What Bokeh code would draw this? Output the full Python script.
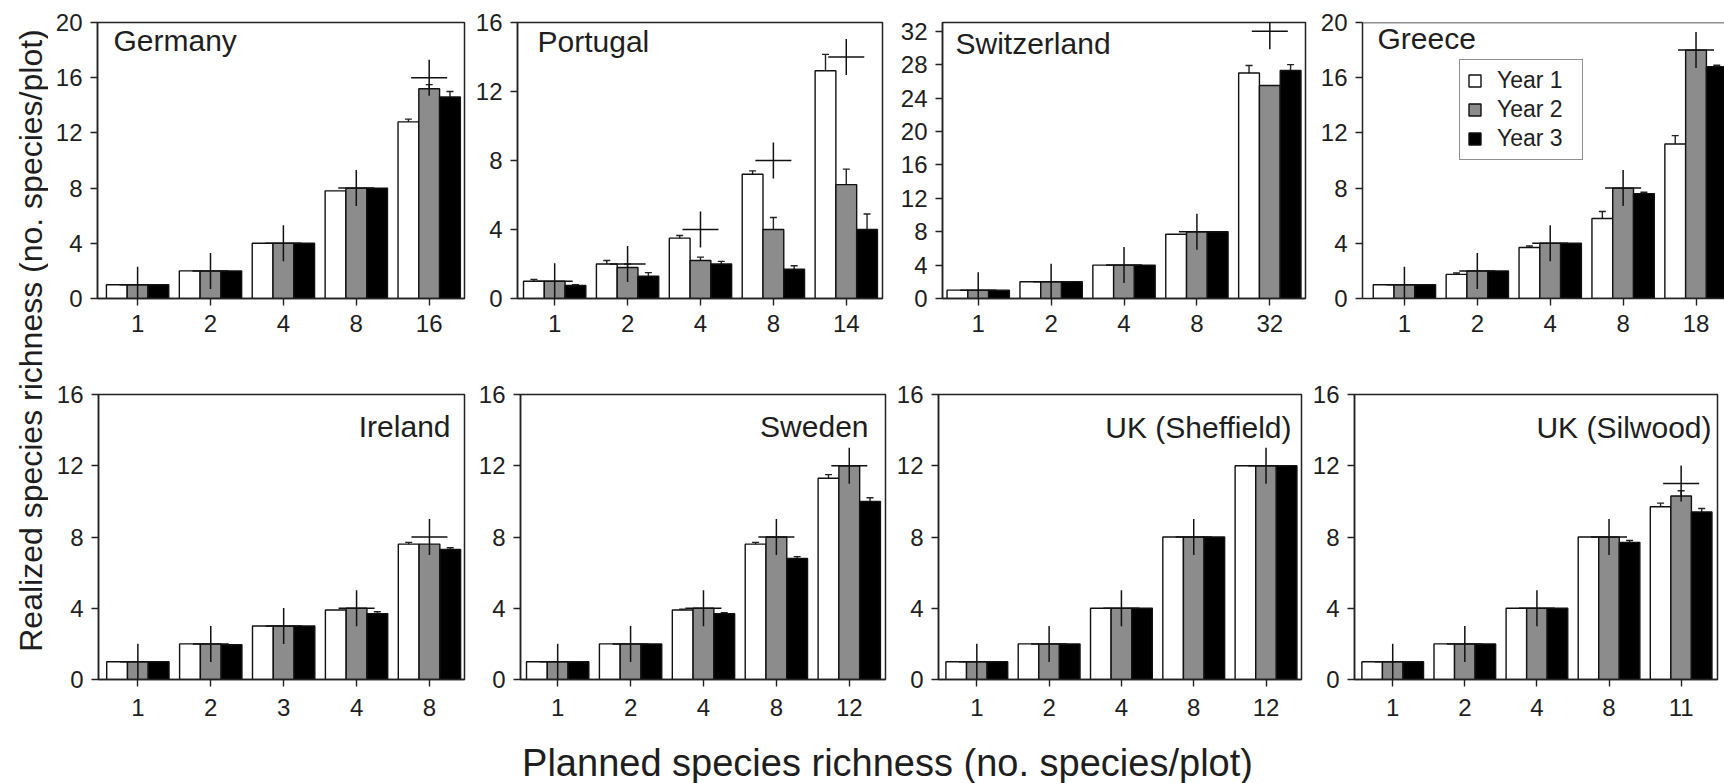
import math
from bokeh.plotting import figure
from bokeh.layouts import row, column
from bokeh.models import (ColumnDataSource, FixedTicker, Range1d, Label, Legend, LegendItem,
                          Whisker, TeeHead, Span)
from bokeh.embed import file_html
from bokeh.resources import INLINE

# ---------------- data ----------------
years = ["Year 1", "Year 2", "Year 3"]

germany_planned = [1, 2, 4, 8, 16]
germany_y1 = [1.0, 2.0, 4.0, 7.8, 12.8]
germany_y2 = [1.0, 2.0, 4.0, 8.0, 15.2]
germany_y3 = [1.0, 2.0, 4.0, 8.0, 14.6]
germany_e1 = [0, 0, 0, 0, 0.2]
germany_e2 = [0, 0, 0, 0, 0.3]
germany_e3 = [0, 0, 0, 0, 0.4]

portugal_planned = [1, 2, 4, 8, 14]
portugal_y1 = [1.0, 2.0, 3.5, 7.2, 13.2]
portugal_y2 = [1.0, 1.8, 2.2, 4.0, 6.6]
portugal_y3 = [0.75, 1.3, 2.0, 1.7, 4.0]
portugal_e1 = [0.1, 0.2, 0.15, 0.2, 0.95]
portugal_e2 = [0, 0.2, 0.2, 0.7, 0.9]
portugal_e3 = [0.05, 0.2, 0.15, 0.2, 0.9]

switzerland_planned = [1, 2, 4, 8, 32]
switzerland_y1 = [1.0, 2.0, 4.0, 7.7, 27.0]
switzerland_y2 = [1.0, 2.0, 4.0, 8.0, 25.5]
switzerland_y3 = [1.0, 2.0, 4.0, 8.0, 27.3]
switzerland_e1 = [0, 0, 0, 0, 0.9]
switzerland_e2 = [0, 0, 0, 0, 0]
switzerland_e3 = [0, 0, 0, 0, 0.7]

greece_planned = [1, 2, 4, 8, 18]
greece_y1 = [1.0, 1.75, 3.7, 5.8, 11.2]
greece_y2 = [1.0, 2.0, 4.0, 8.0, 18.0]
greece_y3 = [1.0, 2.0, 4.0, 7.6, 16.8]
greece_e1 = [0, 0.1, 0.1, 0.5, 0.6]
greece_e2 = [0, 0, 0, 0, 0]
greece_e3 = [0, 0, 0, 0.1, 0.1]

ireland_planned = [1, 2, 3, 4, 8]
ireland_y1 = [1.0, 2.0, 3.0, 3.9, 7.6]
ireland_y2 = [1.0, 2.0, 3.0, 4.0, 7.6]
ireland_y3 = [1.0, 1.95, 3.0, 3.7, 7.3]
ireland_e1 = [0, 0, 0, 0, 0.1]
ireland_e2 = [0, 0, 0, 0, 0]
ireland_e3 = [0, 0, 0, 0.1, 0.1]

sweden_planned = [1, 2, 4, 8, 12]
sweden_y1 = [1.0, 2.0, 3.9, 7.6, 11.3]
sweden_y2 = [1.0, 2.0, 4.0, 8.0, 12.0]
sweden_y3 = [1.0, 2.0, 3.7, 6.8, 10.0]
sweden_e1 = [0, 0, 0.05, 0.1, 0.2]
sweden_e2 = [0, 0, 0, 0, 0]
sweden_e3 = [0, 0, 0.05, 0.1, 0.2]

sheffield_planned = [1, 2, 4, 8, 12]
sheffield_y1 = [1.0, 2.0, 4.0, 8.0, 12.0]
sheffield_y2 = [1.0, 2.0, 4.0, 8.0, 12.0]
sheffield_y3 = [1.0, 2.0, 4.0, 8.0, 12.0]
sheffield_e1 = [0, 0, 0, 0, 0]
sheffield_e2 = [0, 0, 0, 0, 0]
sheffield_e3 = [0, 0, 0, 0, 0]

silwood_planned = [1, 2, 4, 8, 11]
silwood_y1 = [1.0, 2.0, 4.0, 8.0, 9.7]
silwood_y2 = [1.0, 2.0, 4.0, 8.0, 10.3]
silwood_y3 = [1.0, 2.0, 4.0, 7.7, 9.4]
silwood_e1 = [0, 0, 0, 0, 0.2]
silwood_e2 = [0, 0, 0, 0, 0.3]
silwood_e3 = [0, 0, 0, 0.1, 0.2]

y_label = "Realized species richness (no. species/plot)"
x_label = "Planned species richness (no. species/plot)"

# ---------------- style ----------------
FONT = "Liberation Sans"
TXT = "#1e1e1e"
LINE = "#222222"
FILLS = ["#ffffff", "#8c8c8c", "#000000"]
PX_PER_GROUP = 72.9
BAR_W = 0.285


def add_err(p, xs, vals, errs):
    keep = [i for i, e in enumerate(errs) if e > 0]
    if not keep:
        return
    src = ColumnDataSource(dict(
        base=[xs[i] for i in keep],
        upper=[vals[i] + errs[i] for i in keep],
        lower=[vals[i] - errs[i] for i in keep]))
    p.add_layout(Whisker(source=src, base="base", upper="upper", lower="lower",
                         line_color=LINE, line_width=1.4,
                         upper_head=TeeHead(size=7, line_color=LINE, line_width=1.4),
                         lower_head=TeeHead(size=7, line_color=LINE, line_width=1.4)))


def panel(name, planned, ys, es, ymax, yticks, width, height, bl, br, bt, bb, xstart,
          tx, ty, align, xstand, legend=None, cut=False):
    fw = width - bl - br
    fh = height - bt - bb
    xend = xstart + fw / PX_PER_GROUP
    p = figure(width=width, height=height, x_range=Range1d(xstart, xend),
               y_range=Range1d(0, ymax), output_backend="svg", toolbar_location=None,
               title=None, min_border_left=bl, min_border_right=br,
               min_border_top=bt, min_border_bottom=bb)
    p.background_fill_color = "white"
    p.border_fill_color = "white"
    p.xgrid.visible = False
    p.ygrid.visible = False
    if cut:
        p.outline_line_color = None
        p.add_layout(Span(location=ymax, dimension="width", line_color=LINE, line_width=1.5))
    else:
        p.outline_line_color = LINE
        p.outline_line_width = 1.5

    xs = list(range(1, len(planned) + 1))
    offsets = [-BAR_W, 0.0, BAR_W]
    renderers = []
    for k in range(3):
        src = ColumnDataSource(dict(x=[x + offsets[k] for x in xs], top=ys[k]))
        r = p.vbar(x="x", top="top", bottom=0, width=BAR_W, source=src,
                   fill_color=FILLS[k], line_color="#111111", line_width=1.4)
        renderers.append(r)
    for k in range(3):
        add_err(p, [x + offsets[k] for x in xs], ys[k], es[k])
    p.scatter(x=xs, y=planned, marker="cross", size=36, line_color="#111111", line_width=1.5)

    # axes
    p.xaxis.ticker = FixedTicker(ticks=xs)
    p.xaxis.major_label_overrides = {x: str(v) for x, v in zip(xs, planned)}
    p.yaxis.ticker = FixedTicker(ticks=yticks)
    for ax in (p.xaxis, p.yaxis):
        ax.minor_tick_line_color = None
        ax.major_tick_in = 0
        ax.major_tick_out = 7
        ax.major_tick_line_color = LINE
        ax.major_tick_line_width = 1.4
        ax.axis_line_color = LINE
        ax.axis_line_width = 1.5
        ax.major_label_text_font = FONT
        ax.major_label_text_font_size = "24px"
        ax.major_label_text_color = TXT
    p.xaxis.major_label_standoff = xstand
    p.yaxis.major_label_standoff = 8

    lx = tx if align == "left" else fw - tx
    p.add_layout(Label(x=lx, y=fh - ty, x_units="screen", y_units="screen", text=name,
                       text_font=FONT, text_font_size="30px", text_color=TXT,
                       text_align=align, text_baseline="middle"))

    if legend is not None:
        items = [LegendItem(label=years[k], renderers=[renderers[k]]) for k in range(3)]
        lg = Legend(items=items, location=legend, orientation="vertical",
                    glyph_width=15, glyph_height=15, label_text_font=FONT,
                    label_text_font_size="23px", label_text_color=TXT,
                    label_standoff=15, padding=7, spacing=2, label_height=25,
                    label_width=78, margin=0, border_line_color=LINE,
                    border_line_width=1.5, background_fill_color="white",
                    background_fill_alpha=1.0)
        p.add_layout(lg)
    return p


t16 = [0, 4, 8, 12, 16]
t20 = [0, 4, 8, 12, 16, 20]
t32 = [0, 4, 8, 12, 16, 20, 24, 28, 32]

# top row (page y 0..360)
p_de = panel("Germany", germany_planned, [germany_y1, germany_y2, germany_y3],
             [germany_e1, germany_e2, germany_e3], 20, t20,
             424, 360, 49, 8, 18, 59, 0.45, 16, 25, "left", 9)
p_pt = panel("Portugal", portugal_planned, [portugal_y1, portugal_y2, portugal_y3],
             [portugal_e1, portugal_e2, portugal_e3], 16, t16,
             418, 360, 45, 8, 18, 60, 0.49, 20, 25, "left", 9)
p_ch = panel("Switzerland", switzerland_planned, [switzerland_y1, switzerland_y2, switzerland_y3],
             [switzerland_e1, switzerland_e2, switzerland_e3], 33.05, t32,
             423, 360, 52, 8, 16, 62, 0.51, 13, 27, "left", 9)
p_gr = panel("Greece", greece_planned, [greece_y1, greece_y2, greece_y3],
             [greece_e1, greece_e2, greece_e3], 20, t20,
             411, 360, 49, 0, 22, 57, 0.425, 15, 21, "left", 9, legend=(97, 138), cut=True)

# bottom row (page y 360..730)
p_ie = panel("Ireland", ireland_planned, [ireland_y1, ireland_y2, ireland_y3],
             [ireland_e1, ireland_e2, ireland_e3], 16, t16,
             424, 370, 50, 8, 34, 51, 0.46, 14, 32, "right", 12)
p_se = panel("Sweden", sweden_planned, [sweden_y1, sweden_y2, sweden_y3],
             [sweden_e1, sweden_e2, sweden_e3], 16, t16,
             421, 370, 48, 8, 34, 51, 0.49, 17, 32, "right", 12)
p_sh = panel("UK (Sheffield)", sheffield_planned, [sheffield_y1, sheffield_y2, sheffield_y3],
             [sheffield_e1, sheffield_e2, sheffield_e3], 16, t16,
             416, 370, 42, 8, 34, 51, 0.47, 13, 33, "right", 12)
p_si = panel("UK (Silwood)", silwood_planned, [silwood_y1, silwood_y2, silwood_y3],
             [silwood_e1, silwood_e2, silwood_e3], 16, t16,
             415, 370, 41, 7, 34, 51, 0.47, 10, 33, "right", 12)


def blank(w, h):
    f = figure(width=w, height=h, x_range=Range1d(0, 1), y_range=Range1d(0, 1),
               output_backend="svg", toolbar_location=None, title=None,
               x_axis_location=None, y_axis_location=None,
               min_border_left=0, min_border_right=0, min_border_top=0, min_border_bottom=0)
    f.outline_line_color = None
    f.xgrid.visible = False
    f.ygrid.visible = False
    f.background_fill_color = "white"
    f.border_fill_color = "white"
    return f


# x title strip (page y 730..783)
xlab = blank(1676, 53)
xlab.add_layout(Label(x=839, y=21, x_units="screen", y_units="screen", text=x_label,
                      text_font=FONT, text_font_size="38px", text_color=TXT,
                      text_align="center", text_baseline="middle"))

# y title strip (page x 0..48)
ylab = blank(48, 783)
ylab.add_layout(Label(x=30, y=783 - 340, x_units="screen", y_units="screen", text=y_label,
                      angle=math.pi / 2, text_font=FONT, text_font_size="32px",
                      text_color=TXT, text_align="center", text_baseline="middle"))

layout = row(ylab, column(row(p_de, p_pt, p_ch, p_gr),
                          row(p_ie, p_se, p_sh, p_si),
                          xlab))

open("out.html", "w").write(file_html(layout, INLINE))
